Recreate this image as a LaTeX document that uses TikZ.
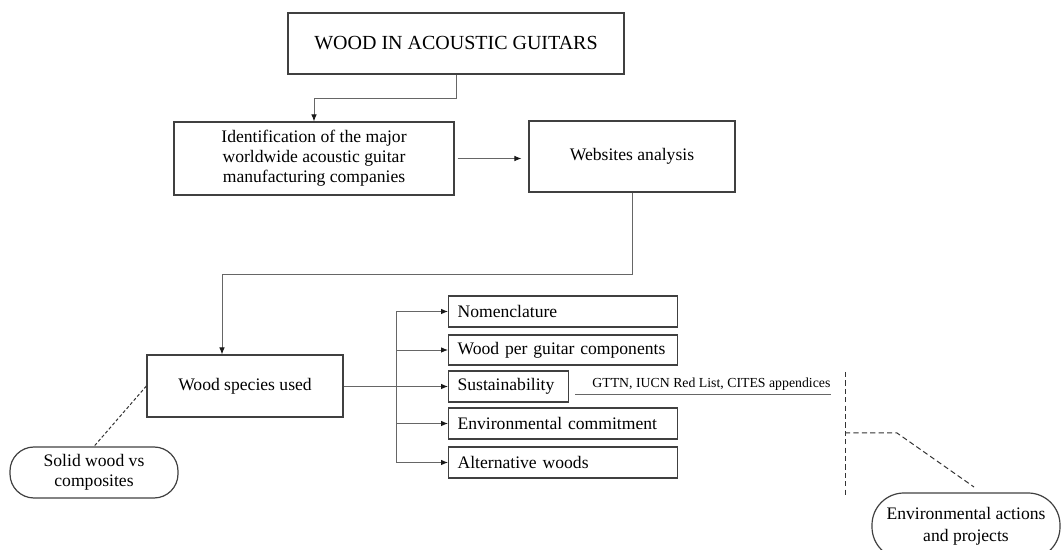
\documentclass[tikz,border=0pt]{standalone}
\usepackage{fontspec}
\setmainfont{Liberation Serif}
\usetikzlibrary{arrows.meta}

\tikzset{
  box/.style={draw=black!75, line width=0.6pt, rectangle, inner sep=0pt, align=center,
    font=\fontsize{8.8}{10}\selectfont},
  itembox/.style={box, anchor=west, minimum height=15.5pt, inner xsep=4.5pt, align=left},
  pill/.style={box, rounded corners=12pt},
  conn/.style={draw=black!60, line width=0.45pt},
  arr/.style={conn, -{Latex[length=3.5pt,width=2.8pt,color=black!90]}},
  dashline/.style={draw=black!80, line width=0.5pt, dash pattern=on 2.6pt off 1.6pt}
}

\begin{document}
\begin{tikzpicture}[x=0.5pt, y=-0.5pt]
    \useasboundingbox (0,0) rectangle (1061,550);
    \clip (0,0) rectangle (1061,550);

    % Main boxes
    \node[box, minimum width=168pt, minimum height=30.5pt, font=\fontsize{10}{12}\selectfont]
        (title) at (456,43.5) {WOOD IN ACOUSTIC GUITARS};
    \node[box, minimum width=140pt, minimum height=36.5pt]
        (ident) at (314,158.5) {Identification of the major\\worldwide acoustic guitar\\manufacturing companies};
    \node[box, minimum width=103pt, minimum height=35.5pt]
        (web) at (632,156.5) {Websites analysis};
    \node[box, minimum width=98pt, minimum height=31pt]
        (species) at (245,386) {Wood species used};

    % Rounded notes
    \node[pill, minimum width=84pt, minimum height=25.5pt]
        (solid) at (94,472.5) {Solid wood vs\\composites};
    \node[pill, minimum width=94pt, minimum height=33pt, rounded corners=16pt,
        font=\fontsize{8.8}{11}\selectfont]
        (envact) at (966,526) {Environmental actions\\and projects};

    % Items
    \node[itembox, text width=105.5pt] (nom)  at (448,311.5) {Nomenclature};
    \node[itembox, text width=105.5pt, minimum height=15pt] (comp) at (448,350) {Wood per guitar components};
    \node[itembox, text width=51pt]    (sust) at (448,386.5) {Sustainability};
    \node[itembox, text width=105.5pt] (envc) at (448,423.5) {Environmental commitment};
    \node[itembox, text width=105.5pt] (alt)  at (448,462.5) {Alternative woods};

    \node[anchor=base west, inner sep=0pt, font=\fontsize{6.9}{8}\selectfont]
        (gttn) at (592,388) {GTTN, IUCN Red List, CITES appendices};

    % Flow
    \draw[arr] (title.south) -- ++(0,24) -| (ident.north);
    \draw[arr, shorten <=1.5pt, shorten >=3.5pt] (ident.east) -- (ident.east -| web.west);
    \draw[arr] (web.south) -- ++(0,82) -| ([xshift=-11.5pt]species.north);

    % Branch to items
    \coordinate (trunk) at (396,386);
    \draw[conn] (species.east) -- (species.east -| trunk);
    \draw[conn] (trunk |- nom.west) -- (trunk |- alt.west);
    \foreach \n in {nom,comp,sust,envc,alt}
        \draw[arr] (trunk |- \n.west) -- (\n.west);

    % Underline of sources
    \coordinate (ul) at (575,394);
    \draw[conn] (ul) -- (ul -| gttn.east);

    % Dashed links
    \draw[dashline, dash pattern=on 1.6pt off 1.1pt] (species.west) -- (solid.north);
    \coordinate (dtop) at (845,372);
    \coordinate (dbot) at (845,495);
    \coordinate (dmid) at (845,433);
    \coordinate (dknee) at (897,433);
    \coordinate (dend) at (974,487);
    \draw[dashline] (dtop) -- (dbot);
    \draw[dashline] (dmid) -- (dknee) -- (dend);

\end{tikzpicture}
\end{document}
